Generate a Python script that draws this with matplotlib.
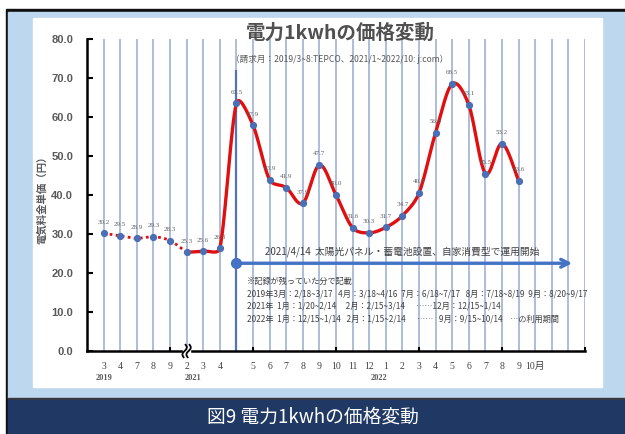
import numpy as np
import matplotlib
matplotlib.use("Agg")
import matplotlib.pyplot as plt
from matplotlib.patches import Rectangle
from matplotlib.transforms import blended_transform_factory

plt.rcParams['font.family'] = ['Noto Sans CJK JP', 'DejaVu Sans']

# billing months: 2019/3,4,7,8,9 then 2021/1 .. 2022/9
month_labels = ["3", "4", "7", "8", "9", "2", "3", "4", "", "5", "6", "7", "8", "9",
                "10", "11", "12", "1", "2", "3", "4", "5", "6", "7", "8", "9", "10月"]
years = ["2019", "2021", "2022"]
prices = [30.2, 29.5, 28.9, 29.3, 28.3, 25.3, 25.6, 26.3, 63.5, 57.9, 43.9, 41.9, 37.9,
          47.7, 40.0, 31.6, 30.3, 31.7, 34.7, 40.5, 56.0, 68.5, 63.1, 45.5, 53.2, 43.6]
n_old = 6  # points drawn dotted (TEPCO period, up to the axis break)

# solar panel installation marker
event_idx = 8
event_level = 22.5
event_top = 72
arrow_end = 28.4
event_text = "2021/4/14  太陽光パネル・蓄電池設置、自家消費型で運用開始"
notes = ["※記録が残っていた分で記載",
         "2019年3月：2/18~3/17   4月：3/18~4/16  7月：6/18~7/17   8月：7/18~8/19  9月：8/20~9/17",
         "2021年  1月：1/20~2/14     2月：2/15~3/14      ……12月：12/15~1/14",
         "2022年  1月：12/15~1/14   2月：1/15~2/14      ……   9月：9/15~10/14    …の利用期間"]

W, H = 625, 434
AX_L, AX_R, AX_T, AX_B = 87, 585, 39, 351  # axes box in pixels
XMIN, XMAX, YMIN, YMAX = -1, 29, 0, 80


def smooth(xs, ys, steps=30, cap=0.4):
    # catmull-rom bezier segments; handle length capped relative to the
    # segment length (in pixels) so steep jumps don't make big dips
    sx = (AX_R - AX_L) / (XMAX - XMIN)
    sy = (AX_B - AX_T) / (YMAX - YMIN)
    p = np.column_stack([np.asarray(xs, float) * sx, np.asarray(ys, float) * sy])
    n = len(p)
    tang = [(p[min(i + 1, n - 1)] - p[max(i - 1, 0)]) / 6 for i in range(n)]

    def handle(v, L):
        m = np.hypot(*v)
        return v if m <= cap * L else v * cap * L / m

    out = []
    t = np.linspace(0, 1, steps)[:, None]
    for i in range(n - 1):
        p1, p2 = p[i], p[i + 1]
        L = np.hypot(*(p2 - p1))
        c1 = p1 + handle(tang[i], L)
        c2 = p2 - handle(tang[i + 1], L)
        seg = ((1 - t) ** 3) * p1 + 3 * ((1 - t) ** 2) * t * c1 + 3 * (1 - t) * t ** 2 * c2 + t ** 3 * p2
        out.append(seg if i == 0 else seg[1:])
    out = np.vstack(out)
    return out[:, 0] / sx, out[:, 1] / sy


fig = plt.figure(figsize=(6.25, 4.34), dpi=100)


def box(x0, y0, x1, y1, color):
    fig.patches.append(Rectangle((x0 / W, 1 - y1 / H), (x1 - x0) / W, (y1 - y0) / H,
                                 transform=fig.transFigure, color=color, zorder=-10))


box(6, 9, 625, 434, "#111111")
box(8, 12, 625, 398, "#bdd7ee")
box(8, 398, 625, 400, "#3a3a3a")
box(8, 400, 625, 434, "#203864")
box(33, 18, 602, 387, "white")

ax = fig.add_axes([AX_L / W, 1 - AX_B / H, (AX_R - AX_L) / W, (AX_B - AX_T) / H])
ax.set_facecolor("none")
ax.set_xlim(XMIN, XMAX)
ax.set_ylim(YMIN, YMAX)

x = np.arange(len(prices))
ax.set_xticks(np.arange(30))
ax.set_xticklabels(month_labels + [""] * (30 - len(month_labels)),
                   family=["Liberation Serif", "Noto Sans CJK JP"], fontsize=7, color="#404040")
ax.tick_params(axis="x", length=0, pad=8)
ax.grid(axis="x", color="#a7b9d5", lw=1.3)
ax.set_axisbelow(True)
ax.xaxis.remove_overlapping_locs = False
ax.set_xticks(np.arange(4, 30, 5), minor=True)
ax.tick_params(axis="x", which="minor", direction="in", length=3, width=1.5, color="black")

ax.set_yticks(np.arange(0, 81, 10))
ax.set_yticklabels([f"{v:.1f}" for v in np.arange(0, 81, 10)], fontweight="bold",
                   fontsize=8, color="#595959", family="Liberation Sans")
ax.tick_params(axis="y", direction="in", length=4, width=1.5, pad=10)
for s in ["top", "right"]:
    ax.spines[s].set_visible(False)
for s in ["left", "bottom"]:
    ax.spines[s].set_linewidth(1.8)

# price curve: dotted before the break, solid afterwards
ox, oy = smooth(x[:n_old], prices[:n_old])
nx, ny = smooth(x[n_old - 1:], prices[n_old - 1:])
ax.plot(ox, oy, color="#e01010", lw=2, ls=(0, (1, 1.2)), zorder=3)
ax.plot(nx, ny, color="#e01010", lw=2.4, zorder=3)
ax.plot(x, prices, "o", ms=4.2, color="#4a6fb5", zorder=4)
for xi, v in zip(x, prices):
    ax.text(xi, v + 2.2, f"{v:.1f}", ha="center", va="bottom", fontsize=5,
            family="Liberation Serif", color="#606060", zorder=5)

# installation line and arrow
ax.vlines(event_idx, 0, event_top, color="#5274b8", lw=1.6, zorder=2)
ax.annotate("", xy=(arrow_end, event_level), xytext=(event_idx, event_level),
            arrowprops=dict(arrowstyle="->", color="#4472c4", lw=2.4, mutation_scale=14),
            zorder=4)
ax.plot(event_idx, event_level, "o", ms=7, color="#4472c4", zorder=5)
ax.text(event_idx + 1.7, event_level + 3.1, event_text, fontsize=7, color="#404040",
        va="center", ha="left")
for i, line in enumerate(notes):
    ax.text(event_idx + 0.65, 17.9 - i * 3.2, line, fontsize=5.9, color="#404040",
            va="center", ha="left", clip_on=False)

# axis break on the x axis
t = np.linspace(-1, 1, 30)
ax.fill_between([4.8, 5.2], -0.8, 0.8, color="white", zorder=6, clip_on=False)
for dx in (-0.12, 0.12):
    ax.plot(5 + dx + 0.1 * np.sin(t * np.pi) + 0.06 * t, 1.6 * t, color="black",
            lw=1.3, zorder=7, clip_on=False)

trans = blended_transform_factory(ax.transData, ax.transAxes)
for xi, yr in zip([0, 5.4, 16.6], years):
    ax.text(xi, -0.087, yr, transform=trans, ha="center", va="center", fontsize=6,
            fontweight="bold", color="#595959", family="Liberation Serif")

fig.text(340 / W, 1 - 33 / H, "電力1kwhの価格変動", ha="center", va="center",
         fontsize=14, fontweight="bold", color="#505050")
fig.text(340 / W, 1 - 59 / H, "（請求月：2019/3~8:TEPCO、2021/1~2022/10: j:com）",
         ha="center", va="center", fontsize=6.2, color="#595959")
fig.text(42 / W, 1 - 197 / H, "電気料金単価（円）", rotation=90, ha="center", va="center",
         fontsize=7.5, fontweight="bold", color="#595959")
fig.text(313 / W, 1 - 417 / H, "図9 電力1kwhの価格変動", ha="center", va="center",
         fontsize=13.5, color="white")

fig.savefig("out.png", dpi=100)
